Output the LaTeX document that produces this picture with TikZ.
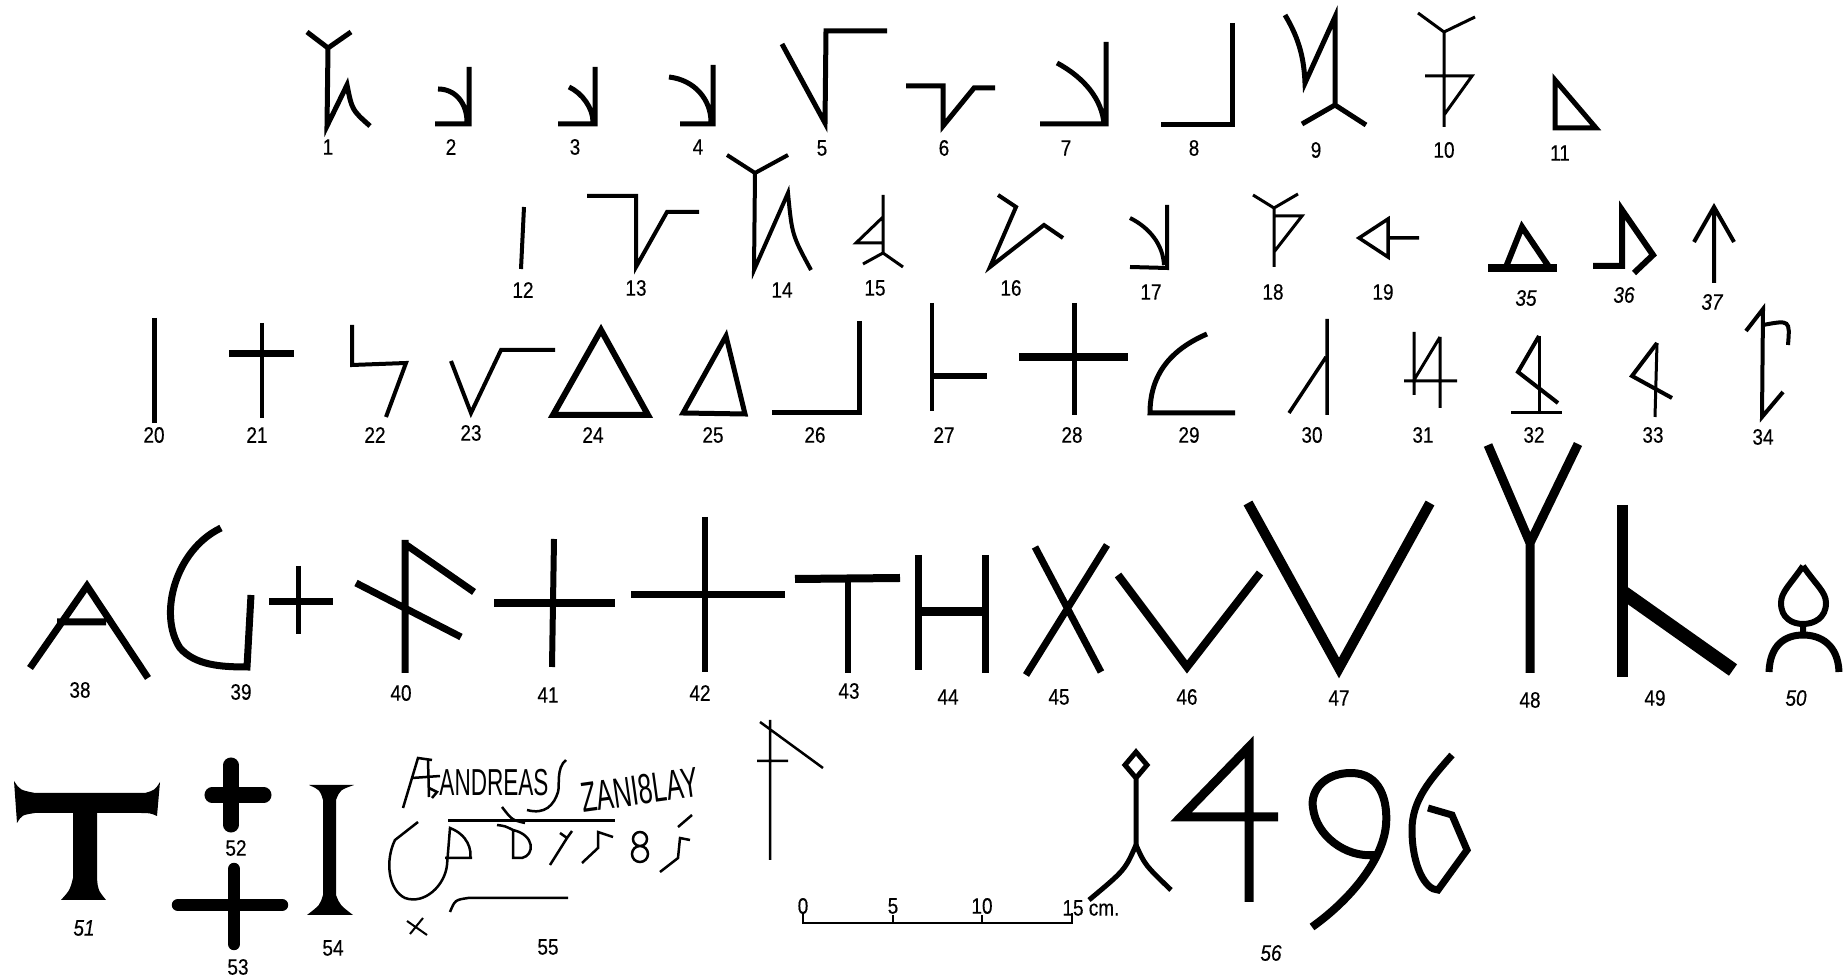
\documentclass[tikz,border=0pt]{standalone}
\usepackage{fontspec}
\setmainfont{Liberation Sans}
\newfontfamily\numfam[FakeStretch=0.85,FakeBold=0.4]{Liberation Sans}
\newfontfamily\inscr[FakeStretch=0.6]{Liberation Sans}

\begin{document}
\begin{tikzpicture}[x=0.4255pt,y=-0.4255pt,
cut/.style={line width=#1*0.4255pt},cut/.default=5,
lab/.style={font=\numfam\fontsize{9.5}{10}\selectfont,inner sep=0pt},
labit/.style={font=\numfam\itshape\fontsize{9.5}{10}\selectfont,inner sep=0pt},
txt/.style={font=\inscr\fontsize{#1}{#1}\selectfont,inner sep=0pt}]
\fill[white] (0,0) rectangle (1843,979);
\useasboundingbox (0,0) rectangle (1843,979);
\draw[cut] (307,32)--(328,48)--(351,32) (328,48)--(327,126)--(347,85) .. controls (352,110) .. (370,126);
\draw[cut] (469,67)--(469,124)--(435,124) (438,89) .. controls (456,89) and (467,104) .. (467,122);
\draw[cut] (595,67)--(595,124)--(558,124) (569,87) .. controls (582,93) and (593,108) .. (593,122);
\draw[cut] (713,65)--(713,124)--(680,124) (669,77) .. controls (695,80) and (711,100) .. (711,122);
\draw[cut] (782,44)--(825,123)--(826,31)--(887,31);
\draw[cut] (906,86)--(943,86)--(943,126)--(974,88)--(995,88);
\draw[cut] (1106,42)--(1106,124)--(1040,124) (1057,63) .. controls (1085,78) and (1102,100) .. (1104,124);
\draw[cut] (1232,23)--(1232,125)--(1161,125);
\draw[cut] (1285,15) .. controls (1300,40) and (1304,60) .. (1305,83)--(1335,17)--(1335,105) (1302,124)--(1335,105)--(1366,125);
\draw[cut=3] (1418,13)--(1444,32)--(1475,17) (1444,32)--(1444,127) (1425,76)--(1472,76)--(1444,115);
\draw[cut] (1555,80)--(1555,128)--(1596,128)--cycle;
\draw[cut=4] (524,207)--(521,269);
\draw[cut=4] (587,196)--(636,196)--(636,267)--(667,212)--(699,212);
\draw[cut=4] (727,155)--(755,173)--(788,155) (755,173)--(754,270)--(788,193) .. controls (792,235) .. (811,270);
\draw[cut=3] (883,195)--(883,253) (883,217)--(856,243)--(883,243) (863,264)--(883,253)--(903,267);
\draw[cut=4] (998,195)--(1016,207)--(990,267)--(1044,225)--(1063,238);
\draw[cut=4] (1167,205)--(1167,268)--(1130,267) (1130,218) .. controls (1150,228) and (1163,245) .. (1164,265);
\draw[cut=3] (1253,195)--(1274,208)--(1298,194) (1274,208)--(1274,267) (1274,216)--(1302,216)--(1274,252);
\draw[cut=3.5] (1388,219)--(1359,238)--(1388,257)--cycle (1388,238)--(1419,238);
\draw[cut=6] (1506,267)--(1522,227)--(1549,267); \draw[cut=8] (1488,268)--(1557,268);
\draw[cut=6] (1593,266)--(1622,266)--(1622,210)--(1653,255)--(1634,273);
\draw[cut=4] (1714,283)--(1714,207) (1694,242)--(1714,207)--(1734,242);
\draw[cut] (154,318)--(154,423);
\draw[cut=4] (262,323)--(262,418); \draw[cut=7] (229,354)--(294,354);
\draw[cut=4] (352,325)--(352,365)--(406,363)--(386,417);
\draw[cut=4] (451,361)--(471,413)--(501,350)--(555,350);
\draw[cut=6] (601,330)--(553,415)--(648,415)--cycle;
\draw[cut] (726,336)--(683,413)--(745,414)--cycle;
\draw[cut] (859,321)--(859,413)--(772,413);
\draw[cut=4] (932,303)--(932,411); \draw[cut=6] (932,376)--(987,376);
\draw[cut=5] (1074,303)--(1074,415); \draw[cut=8] (1019,357)--(1128,357);
\draw[cut] (1235,413)--(1150,413) .. controls (1150,375) and (1170,350) .. (1207,334);
\draw[cut=3.5] (1327,319)--(1327,415) (1326,357)--(1289,413);
\draw[cut=3] (1414,332)--(1414,395) (1440,337)--(1440,408) (1440,337)--(1414,380) (1404,381)--(1457,381);
\draw[cut=3] (1539,336)--(1539,413) (1511,413)--(1562,413); \draw[cut=4] (1539,336)--(1518,372)--(1558,403);
\draw[cut=3] (1657,343)--(1655,417); \draw[cut=4] (1657,343)--(1632,376)--(1672,398);
\draw[cut=4] (1746,331)--(1763,309)--(1762,417)--(1783,392) (1763,325) .. controls (1790,320) .. (1788,345);
\draw[cut=7] (30,668)--(87,586)--(148,678) (57,622)--(106,622);
\draw[cut=7] (221,528) .. controls (175,550) and (158,615) .. (180,648) .. controls (195,665) and (220,667) .. (247,667)--(251,595);
\draw[cut=5] (298,566)--(298,634); \draw[cut=7] (269,602)--(333,602);
\draw[cut=7] (405,540)--(405,673) (405,544)--(474,592) (356,583)--(461,637);
\draw[cut=6] (554,539)--(552,667); \draw[cut=8] (494,603)--(615,603);
\draw[cut=6] (705,517)--(705,672); \draw[cut=7] (631,595)--(785,595);
\draw[cut=8] (795,579)--(900,578); \draw[cut=6] (848,579)--(848,673);
\draw[cut=7] (918,555)--(918,670) (985,555)--(985,673); \draw[cut=9] (918,612)--(985,612);
\draw[cut=7] (1035,547)--(1101,672) (1107,545)--(1026,675);
\draw[cut=8] (1118,575)--(1187,667)--(1260,573);
\draw[cut=10] (1248,503)--(1339,668)--(1430,503);
\draw[cut=9] (1488,445)--(1530,543)--(1578,444) (1530,543)--(1530,673);
\draw[cut=11] (1622,505)--(1622,677); \draw[cut=14] (1624,593)--(1733,670);
\draw[cut=6] (1803,566) .. controls (1790,585) and (1781,592) .. (1781,603) .. controls (1781,618) and (1792,624) .. (1803,624) .. controls (1814,624) and (1826,618) .. (1826,603) .. controls (1826,592) and (1816,585) .. (1803,566) (1803,624)--(1803,635);
\draw[cut=7] (1769,672) .. controls (1770,645) and (1785,635) .. (1803,635) .. controls (1821,635) and (1838,645) .. (1839,672);
\fill (14,781) .. controls (20,790) .. (35,793)--(145,793) .. controls (155,790) .. (160,782)--(157,816) .. controls (150,813) .. (140,813)--(97,813)--(97,878) .. controls (98,890) .. (106,900)--(61,900) .. controls (70,890) .. (73,878)--(73,813)--(35,813) .. controls (22,815) .. (17,823)--cycle;
\draw[line width=6.4pt,line cap=round] (231,765)--(231,825) (212,795)--(264,795);
\draw[line width=5.3pt,line cap=round] (234,869)--(234,944) (178,905)--(282,905);
\fill (309,785)--(354,785) .. controls (340,790) .. (336,800)--(336,895) .. controls (340,905) .. (353,915)--(307,915) .. controls (320,905) .. (323,895)--(323,800) .. controls (320,790) .. cycle;
\draw[cut=2.5] (403,808)--(418,758)--(432,760) (428,760)--(429,797) (412,778)--(440,776) (429,788)--(437,792)--(432,798);
\node[txt=16] (andreas) at (494,783) {ANDREAS};
\draw[cut=2.5] (566,760) .. controls (556,768) and (560,785) .. (558,792) .. controls (554,805) and (545,815) .. (527,810) (502,807) .. controls (512,820) .. (525,823);
\node[txt=18,rotate=8] (stanislay) at (640,790) {ZANI8LAY};
\draw[cut=3] (448,821)--(615,821);
\draw[cut=2.5] (418,822)--(395,840) .. controls (385,860) and (388,890) .. (405,898) .. controls (425,905) and (445,885) .. (447,865)--(450,828) .. controls (468,835) and (472,850) .. (470,859) (445,858)--(472,858);
\draw[cut=2.5] (497,825) .. controls (505,826) .. (513,830)--(513,858)--(522,858) .. controls (535,855) and (535,835) .. (513,830);
\draw[cut=2.5] (550,865)--(567,838) (560,833)--(567,838)--(572,831);
\draw[cut=2.5] (582,863)--(598,848)--(598,832)--(613,837);
\draw[cut=2.5] (640,839) circle (7) (640,854) circle (8);
\draw[cut=2.5] (660,872)--(678,858)--(680,838)--(690,840) (678,827)--(692,815);
\draw[cut=2.5] (450,912) .. controls (455,900) .. (468,898)--(568,898);
\draw[cut=2] (407,921)--(427,935) (410,934)--(423,918);
\draw[cut=2.5] (770,720)--(770,860) (757,761)--(788,761) (760,722)--(823,768);
\draw[cut=2] (803,913)--(803,923)--(1072,923)--(1072,913) (893,923)--(893,915) (982,923)--(982,915);
\node[lab] (s0) at (803,906) {0}; \node[lab] (s5) at (893,906) {5}; \node[lab] (s10) at (982,906) {10};
\node[lab,anchor=west] (s15) at (1062,908) {15 cm.};
\draw[cut=5] (1136,752)--(1125,765)--(1136,778)--(1147,765)--cycle (1136,778)--(1136,848);
\draw[cut=5] (1136,845) .. controls (1125,870) .. (1089,900) (1136,845) .. controls (1145,865) .. (1171,890);
\draw[cut=9] (1249,902)--(1249,747)--(1181,817)--(1278,817);
\draw[cut=8] (1351,773) .. controls (1380,773) and (1388,800) .. (1386,825) .. controls (1383,860) and (1350,900) .. (1312,927) (1351,773) .. controls (1325,773) and (1310,790) .. (1313,808) .. controls (1316,835) and (1345,858) .. (1375,855);
\draw[cut=7] (1452,755) .. controls (1430,780) and (1412,800) .. (1412,830) .. controls (1412,865) and (1425,890) .. (1438,890)--(1467,850)--(1452,815)--(1428,808);
\foreach \n/\x/\y in {1/328/147,2/451/147,3/575/147,4/698/147,5/822/148,6/944/148,7/1066/148,8/1194/148,9/1316/150,10/1444/150,11/1560/153,
12/523/290,13/636/288,14/782/290,15/875/288,16/1011/288,17/1151/292,18/1273/292,19/1383/292,
20/154/435,21/257/435,22/375/435,23/471/433,24/593/435,25/713/435,26/815/435,27/944/435,28/1072/435,29/1189/435,30/1312/435,31/1423/435,32/1534/435,33/1653/435,34/1763/437,
38/80/690,39/241/692,40/401/693,41/548/695,42/700/693,43/849/691,44/948/697,45/1059/697,46/1187/697,47/1339/698,48/1530/700,49/1655/698,
52/236/848,53/238/967,54/333/948,55/548/947}
  \node[lab] (l\n) at (\x,\y) {\n};
\foreach \n/\x/\y in {35/1526/298,36/1624/295,37/1712/302,50/1796/698,51/84/928,56/1271/953}
  \node[labit] (l\n) at (\x,\y) {\n};
\end{tikzpicture}
\end{document}
